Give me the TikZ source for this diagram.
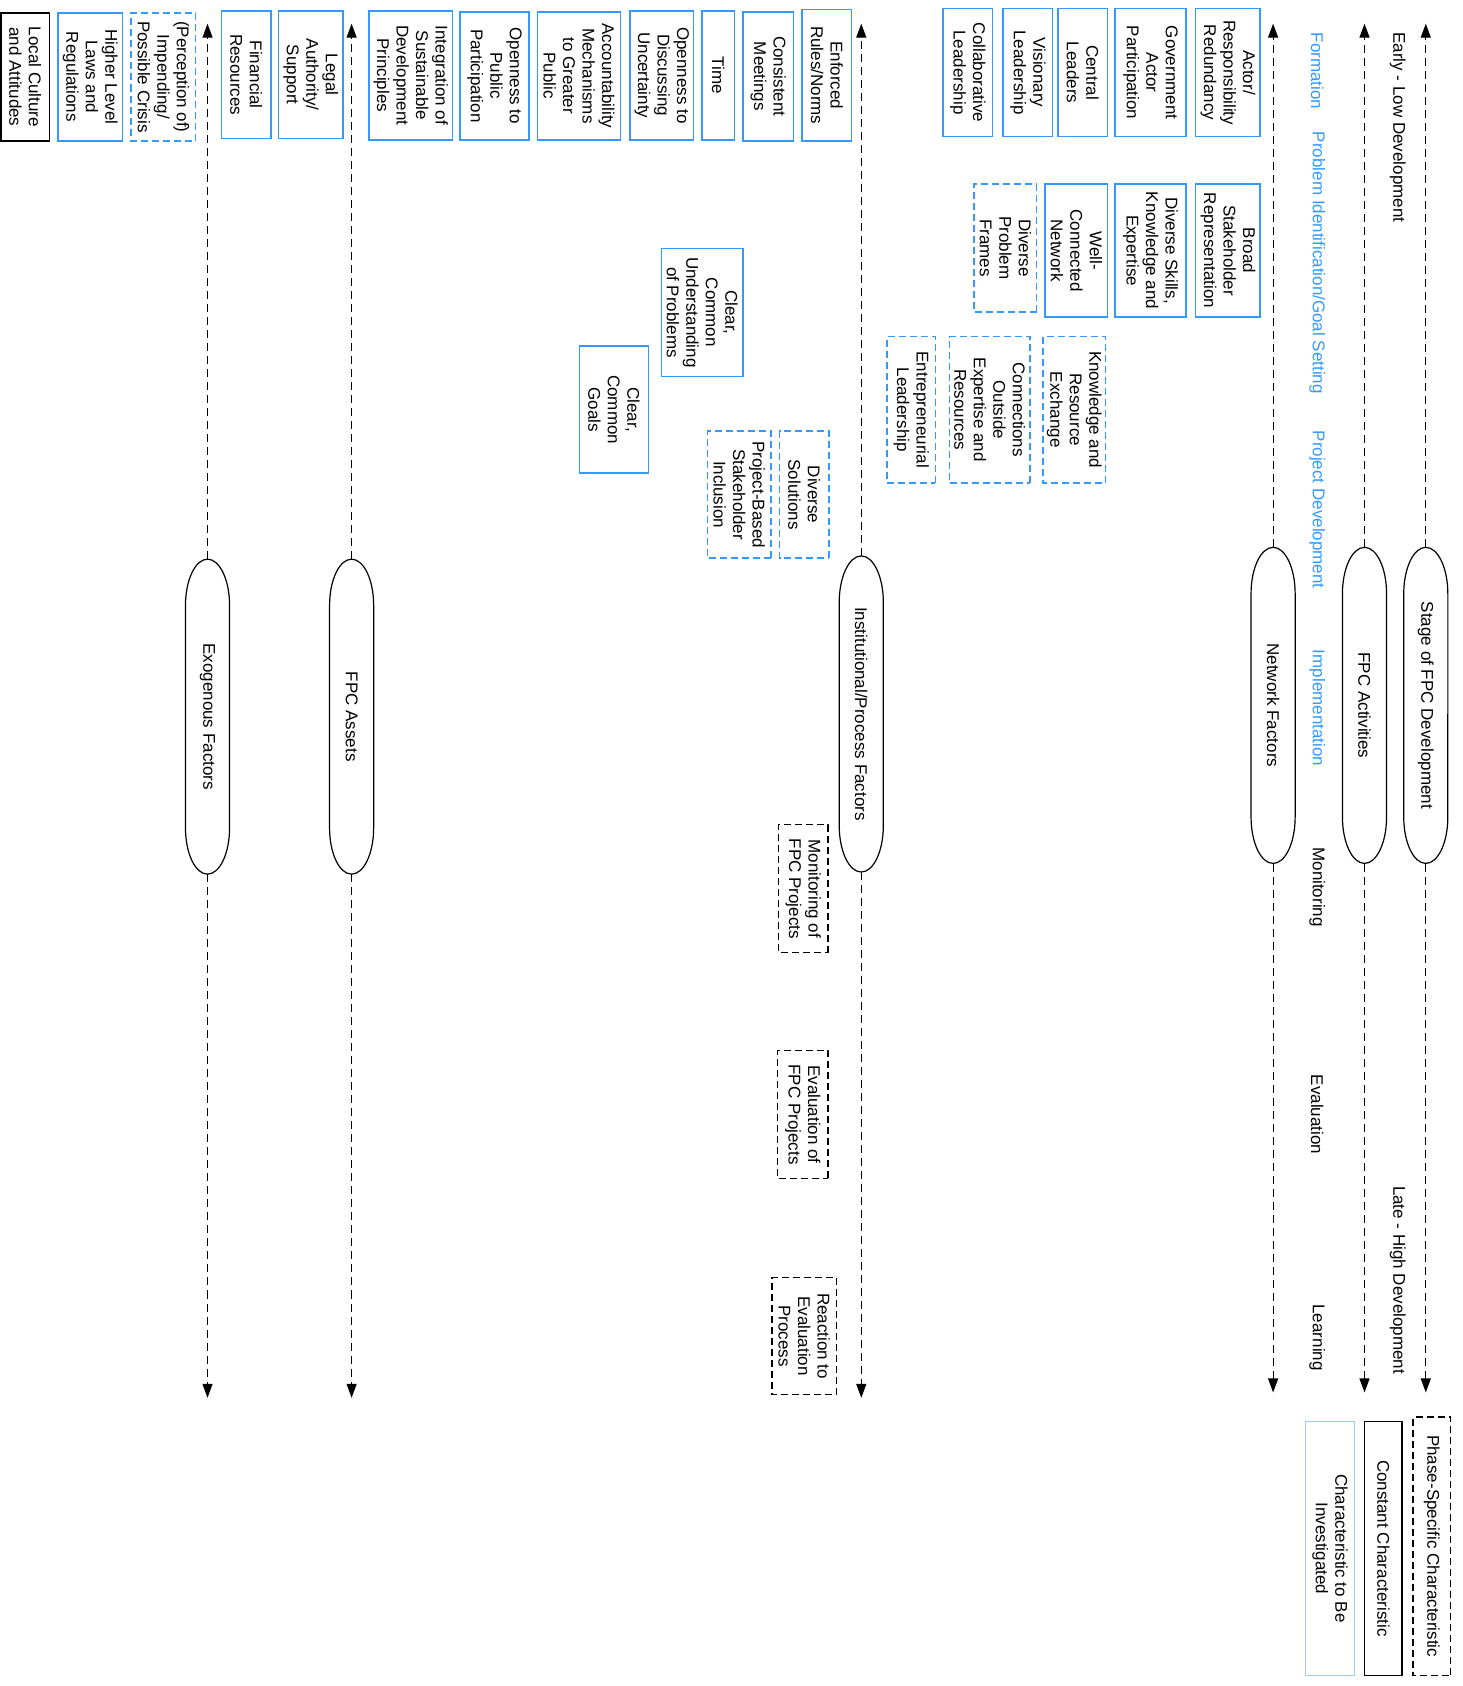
\documentclass[tikz,border=0pt]{standalone}
\usepackage{fontspec}
\setmainfont{Liberation Sans}
\usetikzlibrary{arrows.meta}
\definecolor{fpcblue}{RGB}{51,153,255}
\definecolor{fpclight}{RGB}{153,204,255}
\newcommand\dfont{\fontsize{17pt}{19.5pt}\selectfont}
\newcommand\mkbox[7]{\node[#6, rotate=-90, minimum width={(#5-#3)*1.075pt}, minimum height={(#4-#2)*1.075pt}] (#1) at ({(#2+#4)/2},{(#3+#5)/2}) {#7};}
\newcommand\mkpill[5]{%
 \node[pilltxt, rotate=-90, minimum width={(#4-#3)*1.075pt}, minimum height={41*1.075pt}] (#1) at (#2,{(#3+#4)/2}) {#5};
 \draw[pillline] (#2-20.5,#3+43) arc[start angle=180,end angle=0,x radius=22.04pt,y radius=46.2pt] -- (#2+20.5,#4-43) arc[start angle=0,end angle=-180,x radius=22.04pt,y radius=46.2pt] -- cycle;}
\tikzset{
 box/.style={draw=fpcblue, line width=1.5pt, align=center, inner sep=0pt, text=black},
 dbox/.style={box, dash pattern=on 7pt off 4pt},
 kbox/.style={box, draw=black},
 kdbox/.style={dbox, draw=black},
 lbox/.style={box, draw=fpclight, line width=1.1pt},
 pilltxt/.style={inner sep=0pt},
 pillline/.style={line width=1.2pt},
 axis/.style={line width=1.2pt, dash pattern=on 8pt off 5pt, -{Triangle[length=14pt,width=10pt]}},
 phase/.style={rotate=-90, text=fpcblue, inner sep=0pt},
 blk/.style={rotate=-90, inner sep=0pt}
}
\begin{document}
\begin{tikzpicture}[x=1.075pt, y=-1.075pt, font=\dfont]
\useasboundingbox (0,0) rectangle (1360,1568);
% pills
\mkpill{stage}{1326}{509}{803}{Stage of FPC Development}
\mkpill{act}{1269}{509}{803}{FPC Activities}
\mkpill{net}{1184}{509}{803}{Network Factors}
\mkpill{inst}{801}{517}{811}{Institutional/Process Factors}
\mkpill{assets}{327}{520}{813}{FPC Assets}
\mkpill{exo}{193}{520}{813}{Exogenous Factors}
% arrow ends
\coordinate (stageA) at (1326,22); \coordinate (stageB) at (1326,1295);
\coordinate (actA) at (1269,22); \coordinate (actB) at (1269,1295);
\coordinate (netA) at (1184,22); \coordinate (netB) at (1184,1295);
\coordinate (instA) at (801,22); \coordinate (instB) at (801,1300);
\coordinate (assetsA) at (327,22); \coordinate (assetsB) at (327,1300);
\coordinate (exoA) at (193,22); \coordinate (exoB) at (193,1300);
\foreach \p in {stage,act,net,inst,assets,exo}{
 \draw[axis] (\p.west) -- (\p A);
 \draw[axis] (\p.east) -- (\p B);
}
% stage labels
\node[blk] (early) at (1300,118.5) {Early - Low Development};
\node[blk] (late) at (1300,1190.5) {Late - High Development};
% phase labels
\node[phase] (ph1) at (1225,66) {Formation};
\node[phase] (ph2) at (1225,244.5) {Problem Identification/Goal Setting};
\node[phase] (ph3) at (1225,474) {Project Development};
\node[phase] (ph4) at (1225,658.5) {Implementation};
\node[blk] (ph5) at (1225,825) {Monitoring};
\node[blk] (ph6) at (1225,1036.5) {Evaluation};
\node[blk] (ph7) at (1225,1244) {Learning};
% network factors
\mkbox{nb1}{1112}{8}{1172}{127}{box}{Actor/\\Responsibility\\Redundancy}
\mkbox{nb2}{1112}{171}{1172}{295}{box}{Broad\\Stakeholder\\Representation}
\mkbox{nb3}{1037}{8}{1103}{127}{box}{Government\\Actor\\Participation}
\mkbox{nb4}{1037}{171}{1103}{295}{box}{Diverse Skills,\\Knowledge and\\Expertise}
\mkbox{nb5}{984}{8}{1030}{127}{box}{Central\\Leaders}
\mkbox{nb6}{972}{171}{1030}{295}{box}{Well-\\Connected\\Network}
\mkbox{nb7}{933}{8}{979}{127}{box}{Visionary\\Leadership}
\mkbox{nb8}{877}{8}{923}{127}{box}{Collaborative\\Leadership}
\mkbox{nb9}{906}{171}{964}{290}{dbox}{Diverse\\Problem\\Frames}
\mkbox{nb10}{970}{313}{1028}{449}{dbox}{Knowledge and\\Resource\\Exchange}
\mkbox{nb11}{883}{313}{958}{449}{dbox}{Connections\\Outside\\Expertise and\\Resources}
\mkbox{nb12}{825}{313}{870}{449}{dbox}{Entrepreneurial\\Leadership}
% institutional / process factors
\mkbox{ib1}{746}{9}{792}{131}{box}{Enforced\\Rules/Norms}
\mkbox{ib2}{691}{11}{738}{131}{box}{Consistent\\Meetings}
\mkbox{ib3}{653}{10}{683}{130}{box}{Time}
\mkbox{ib4}{586}{10}{645}{130}{box}{Openness to\\Discussing\\Uncertainty}
\mkbox{ib5}{500}{11}{577}{130}{box}{Accountability\\Mechanisms\\to Greater\\Public}
\mkbox{ib6}{428}{11}{492}{130}{box}{Openness to\\Public\\Participation}
\mkbox{ib7}{343}{10}{421}{130}{box}{Integration of\\Sustainable\\Development\\Principles}
\mkbox{ib8}{615}{231}{691}{350}{box}{Clear,\\Common\\Understanding\\of Problems}
\mkbox{ib9}{539}{322}{603}{440}{box}{Clear,\\Common\\Goals}
\mkbox{ib10}{725}{401}{771}{519}{dbox}{Diverse\\Solutions}
\mkbox{ib11}{658}{401}{717}{519}{dbox}{Project-Based\\Stakeholder\\Inclusion}
\mkbox{ib12}{724}{767}{770}{886}{kdbox}{Monitoring of\\FPC Projects}
\mkbox{ib13}{723}{977}{770}{1096}{kdbox}{Evaluation of\\FPC Projects}
\mkbox{ib14}{718}{1188}{778}{1297}{kdbox}{Reaction to\\Evaluation\\Process}
% assets
\mkbox{ab1}{259}{10}{319}{129}{box}{Legal\\Authority/\\Support}
\mkbox{ab2}{206}{10}{252}{129}{box}{Financial\\Resources}
% exogenous
\mkbox{eb1}{122}{12}{182}{131}{dbox}{(Perception of)\\Impending/\\Possible Crisis}
\mkbox{eb2}{54}{12}{114}{131}{box}{Higher Level\\Laws and\\Regulations}
\mkbox{eb3}{1}{12}{46}{131}{kbox}{Local Culture\\and Attitudes}
% legend
\mkbox{lg1}{1314}{1318}{1349}{1558}{kdbox}{Phase-Specific Characteristic}
\mkbox{lg2}{1269}{1322}{1304}{1558}{kbox}{Constant Characteristic}
\mkbox{lg3}{1214}{1322}{1260}{1558}{lbox}{Characteristic to Be\\Investigated}
\end{tikzpicture}
\end{document}
